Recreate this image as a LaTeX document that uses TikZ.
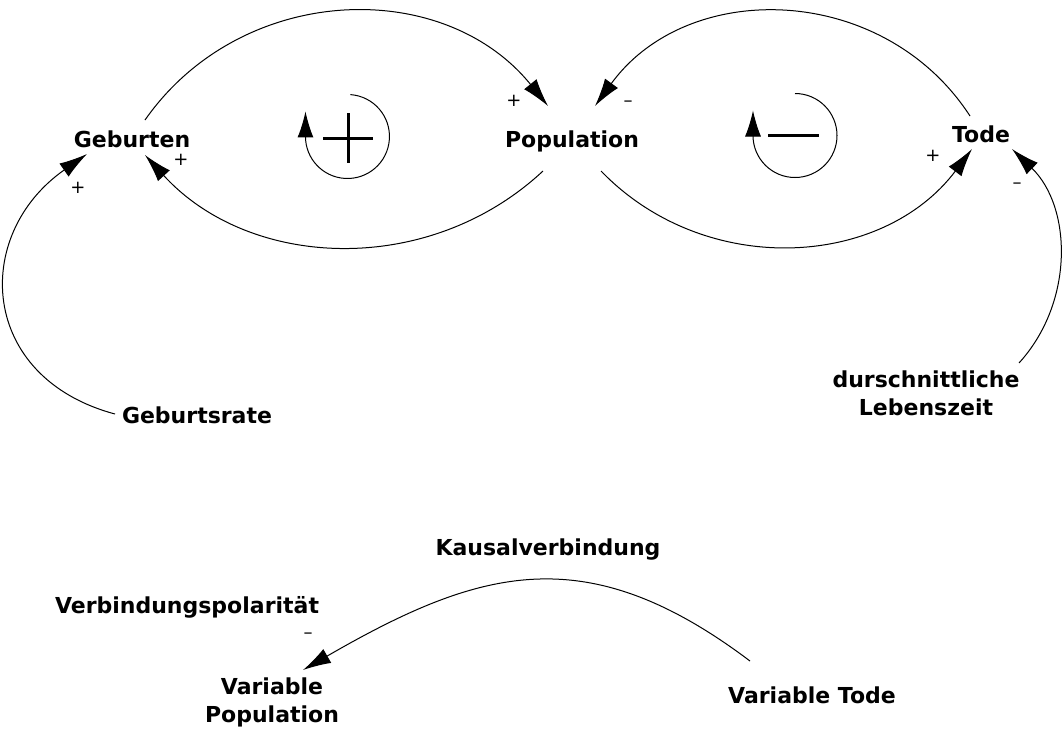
\documentclass[tikz,border=0pt]{standalone}
\usepackage{fontspec}
\setmainfont{DejaVu Sans}
\usetikzlibrary{arrows.meta}
\begin{document}
\begin{tikzpicture}[x=1pt,y=1pt,
  var/.style={font=\bfseries\fontsize{22}{28}\selectfont, inner sep=0pt, align=center},
  sign/.style={font=\fontsize{18}{18}\selectfont, inner sep=0pt},
  link/.style={line width=1pt, -{Latex[length=28pt,width=16pt]}},
  looparrow/.style={line width=1pt, -{Latex[length=26pt,width=16pt]}},
  loopsign/.style={line width=3pt}
]
\useasboundingbox (0,0) rectangle (1062,-728);
\fill[white] (0,0) rectangle (1062,-728);

% variables
\node[var, anchor=base] (geb)   at (132,-147) {Geburten};
\node[var, anchor=base] (pop)   at (572,-147) {Population};
\node[var, anchor=base] (tode)  at (981,-142) {Tode};
\node[var, anchor=base] (rate)  at (197,-423) {Geburtsrate};
\node[var]              (leben) at (926,-393) {durschnittliche\\Lebenszeit};

% legend
\node[var, anchor=base] (kausal) at (548,-555) {Kausalverbindung};
\node[var, anchor=base] (polar)  at (187,-613) {Verbindungspolarität};
\node[var]              (vpop)   at (272,-702) {Variable\\Population};
\node[var, anchor=base] (vtode)  at (812,-703) {Variable Tode};

% link end points beside the variables
\coordinate (gebTop)   at (145,-120);
\coordinate (gebIn)    at (145,-155);
\coordinate (gebLeft)  at (87,-154);
\coordinate (popInL)   at (548,-106);
\coordinate (popInR)   at (595,-106);
\coordinate (popOutL)  at (543,-171);
\coordinate (popOutR)  at (601,-171);
\coordinate (todeTop)  at (970,-116);
\coordinate (todeInL)  at (972,-149);
\coordinate (todeInR)  at (1012,-149);
\coordinate (rateOut)  at (115,-414);
\coordinate (lebenOut) at (1019,-363);
\coordinate (vtodeOut) at (750,-661);
\coordinate (vpopIn)   at (303,-670);

% causal links
\draw[link] (gebTop)   to[out=55,   in=129,   looseness=1.06] (popInL);
\draw[link] (popOutL)  to[out=-137, in=-47.6, looseness=1.0]  (gebIn);
\draw[link] (todeTop)  to[out=123,  in=54,    looseness=1.08] (popInR);
\draw[link] (popOutR)  to[out=-46,  in=-127,  looseness=1.03] (todeInL);
\draw[link] (lebenOut) to[out=47.7, in=-44,   looseness=0.99] (todeInR);
\draw[link] (rateOut)  to[out=165,  in=215,   looseness=1.38] (gebLeft);
\draw[link] (vtodeOut) to[out=143,  in=30,    looseness=1.17] (vpopIn);

% link polarities
\node[sign] (p1) at (514,-101) {+};
\node[sign] (p2) at (628,-104) {–};
\node[sign] (p3) at (181,-160) {+};
\node[sign] (p4) at (78,-188)  {+};
\node[sign] (p5) at (933,-156) {+};
\node[sign] (p6) at (1017,-186) {–};
\node[sign] (p7) at (308,-636) {–};

% reinforcing loop
\coordinate (loopR) at (350.4,-94.6);
\draw[looparrow] (loopR) arc[start angle=86, end angle=-180, radius=42] -- ++(0,25);
\draw[loopsign] (323,-138) -- (373,-138) (348,-113) -- (348,-163);

% balancing loop
\coordinate (loopB) at (795,-93.5);
\draw[looparrow] (loopB) arc[start angle=90, end angle=-180, radius=42] -- ++(0,25);
\draw[loopsign] (768,-135) -- (819,-135);
\end{tikzpicture}
\end{document}
